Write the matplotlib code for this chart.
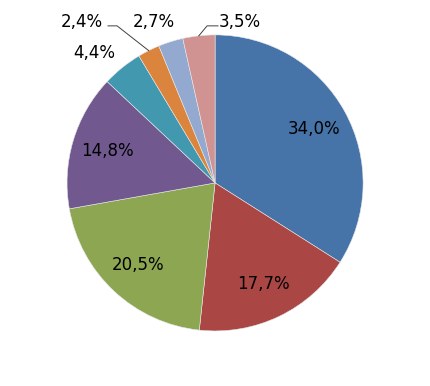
import numpy as np
import matplotlib.pyplot as plt

values = [34.0, 17.7, 20.5, 14.8, 4.4, 2.4, 2.7, 3.5]
labels = ['34,0%', '17,7%', '20,5%', '14,8%', '4,4%', '2,4%', '2,7%', '3,5%']
colors = ['#4673A8', '#AA4644', '#8CA652', '#715990', '#4198AF', '#DB843D', '#93A9D0', '#D09392']

plt.rcParams['font.family'] = ['DejaVu Sans']

fig = plt.figure(figsize=(4.31, 3.86), dpi=100)
ax = fig.add_axes([0.1555, 0.1426, 0.687, 0.767])

wedges, _ = ax.pie(values, colors=colors, startangle=90, counterclock=False,
                   radius=1.0, wedgeprops=dict(edgecolor='#e8e8e8', linewidth=0.4))

ax.set_xlim(-1, 1)
ax.set_ylim(-1, 1)
ax.axis('off')

fs = 12
# labels inside the big slices
for w, lab in zip(wedges[:4], labels[:4]):
    ang = np.deg2rad((w.theta1 + w.theta2) / 2)
    ax.text(0.76 * np.cos(ang), 0.76 * np.sin(ang), lab, ha='center', va='center', fontsize=fs)

# outside labels (small slices)
ax.text(-0.818, 0.878, labels[4], ha='center', va='center', fontsize=fs)
ax.text(-0.899, 1.088, labels[5], ha='center', va='center', fontsize=fs)
ax.text(-0.412, 1.088, labels[6], ha='center', va='center', fontsize=fs)
ax.text(0.169, 1.088, labels[7], ha='center', va='center', fontsize=fs)

# leader lines
ang = np.deg2rad((wedges[5].theta1 + wedges[5].theta2) / 2)
ax.plot([-0.723, -0.662, np.cos(ang)], [1.061, 1.061, np.sin(ang)], color='#404040', lw=0.7, clip_on=False)
ang = np.deg2rad((wedges[7].theta1 + wedges[7].theta2) / 2)
ax.plot([0.02, -0.054, np.cos(ang)], [1.061, 1.061, np.sin(ang)], color='#404040', lw=0.7, clip_on=False)

fig.savefig('out.png', dpi=100)
